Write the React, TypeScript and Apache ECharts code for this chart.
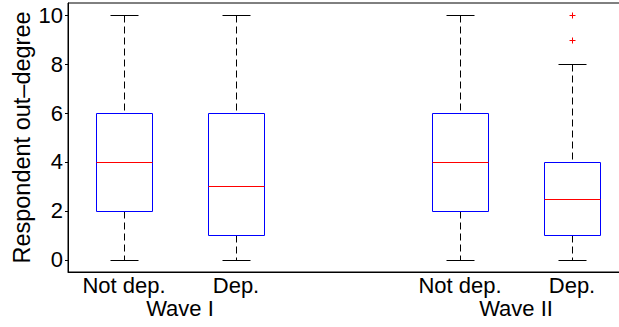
import React, { useEffect, useRef } from "react";
import * as echarts from "echarts";

// Category slots along the x axis (slot 2 is the empty gap between waves)
const categories = ["Not dep.", "Dep.", "", "Not dep.", "Dep."];
// Box positions (category index) for each box
const boxSlots = [0, 1, 3, 4];
const whiskerLow = [0, 0, 0, 0];
const quartile1 = [2, 1, 2, 1];
const medians = [4, 3, 4, 2.5];
const quartile3 = [6, 6, 6, 4];
const whiskerHigh = [10, 10, 10, 8];
// Outliers: [category index, value]
const outliers: [number, number][] = [
  [4, 9],
  [4, 10],
];
// Group labels at the midpoint between the two boxes of each wave
const waveNames = ["Wave I", "Wave II"];
const wavePositions = [0.5, 3.5];
const yTicks = [0, 2, 4, 6, 8, 10];

const FONT = "Liberation Sans, Arial, Helvetica, sans-serif";
const crisp = (v: number) => Math.round(v) + 0.5;

export default function App() {
  const ref = useRef<HTMLDivElement>(null);
  useEffect(() => {
    if (!ref.current) return;
    const chart = echarts.init(ref.current, null, { renderer: "svg" });
    const boxData = boxSlots.map((s, i) => [
      s,
      whiskerLow[i],
      quartile1[i],
      medians[i],
      quartile3[i],
      whiskerHigh[i],
    ]);
    chart.setOption({
      animation: false,
      grid: {
        left: 68,
        top: 3,
        width: 560,
        height: 269,
        show: true,
        borderColor: "#000",
        borderWidth: 1,
        backgroundColor: "transparent",
        outerBoundsMode: "none",
        containLabel: false,
      },
      xAxis: [
        {
          type: "category",
          data: categories,
          boundaryGap: true,
          axisLine: { onZero: false, lineStyle: { color: "#000", width: 1 } },
          axisTick: { show: false },
          axisLabel: {
            color: "#000",
            fontSize: 22,
            fontFamily: FONT,
            margin: 2,
            interval: 0,
          },
          splitLine: { show: false },
        },
        {
          type: "value",
          position: "bottom",
          min: -0.5,
          max: 4.5,
          interval: 1,
          offset: 23,
          axisLine: { show: false, onZero: false },
          axisTick: { show: false },
          splitLine: { show: false },
          axisLabel: {
            color: "#000",
            fontSize: 22,
            fontFamily: FONT,
            margin: 2,
            showMinLabel: true,
            showMaxLabel: true,
            formatter: (v: number) => {
              const k = wavePositions.findIndex((p) => Math.abs(p - v) < 1e-6);
              return k >= 0 ? waveNames[k] : "";
            },
          },
        },
      ],
      yAxis: {
        type: "value",
        min: -0.5,
        max: 10.5,
        name: "Respondent out–degree",
        nameLocation: "middle",
        nameGap: 34,
        nameMoveOverlap: false,
        nameTextStyle: { color: "#000", fontSize: 23.5, fontFamily: FONT },
        axisLine: { show: true, onZero: false, lineStyle: { color: "#000", width: 1 } },
        axisTick: { show: true, length: 3, lineStyle: { color: "#000" }, customValues: yTicks },
        axisLabel: {
          color: "#000",
          fontSize: 22,
          fontFamily: FONT,
          margin: 5,
          customValues: yTicks,
        },
        splitLine: { show: false },
      },
      series: [
        {
          type: "custom",
          xAxisIndex: 0,
          yAxisIndex: 0,
          data: boxData,
          encode: { x: 0, y: [1, 2, 3, 4, 5] },
          renderItem: (params: any, api: any) => {
            const x = api.value(0);
            const lo = crisp(api.coord([x, api.value(1)])[1]);
            const q1 = crisp(api.coord([x, api.value(2)])[1]);
            const med = crisp(api.coord([x, api.value(3)])[1]);
            const q3 = crisp(api.coord([x, api.value(4)])[1]);
            const hi = crisp(api.coord([x, api.value(5)])[1]);
            const rawX = api.coord([x, api.value(1)])[0];
            const band = api.size([1, 0])[0];
            const bw = band * 0.5;
            const cw = bw * 0.5;
            const cx = crisp(rawX);
            const bl = crisp(rawX - bw / 2);
            const br = crisp(rawX + bw / 2);
            const cl = crisp(rawX - cw / 2);
            const cr = crisp(rawX + cw / 2);
            const dash = { stroke: "#000", lineWidth: 1, lineDash: [7, 4] };
            const solid = { stroke: "#000", lineWidth: 1 };
            return {
              type: "group",
              children: [
                { type: "line", shape: { x1: cx, y1: hi, x2: cx, y2: q3 }, style: dash },
                { type: "line", shape: { x1: cx, y1: q1, x2: cx, y2: lo }, style: dash },
                { type: "line", shape: { x1: cl, y1: hi, x2: cr, y2: hi }, style: solid },
                { type: "line", shape: { x1: cl, y1: lo, x2: cr, y2: lo }, style: solid },
                {
                  type: "rect",
                  shape: { x: bl, y: q3, width: br - bl, height: q1 - q3 },
                  style: { fill: "none", stroke: "#0000ff", lineWidth: 1 },
                },
                {
                  type: "line",
                  shape: { x1: bl, y1: med, x2: br, y2: med },
                  style: { stroke: "#ff0000", lineWidth: 1 },
                },
              ],
            };
          },
        },
        {
          type: "custom",
          xAxisIndex: 0,
          yAxisIndex: 0,
          data: outliers,
          encode: { x: 0, y: 1 },
          renderItem: (params: any, api: any) => {
            const p = api.coord([api.value(0), api.value(1)]);
            const px = crisp(p[0]);
            const py = crisp(p[1]);
            const r = 3;
            const st = { stroke: "#ff0000", lineWidth: 1 };
            return {
              type: "group",
              children: [
                { type: "line", shape: { x1: px - r, y1: py, x2: px + r, y2: py }, style: st },
                { type: "line", shape: { x1: px, y1: py - r, x2: px, y2: py + r }, style: st },
              ],
            };
          },
        },
      ],
    });
    return () => chart.dispose();
  }, []);
  return (
    <div
      ref={ref}
      style={{ position: "fixed", left: 0, top: 0, width: 619, height: 327, background: "#fff", overflow: "hidden" }}
    />
  );
}
